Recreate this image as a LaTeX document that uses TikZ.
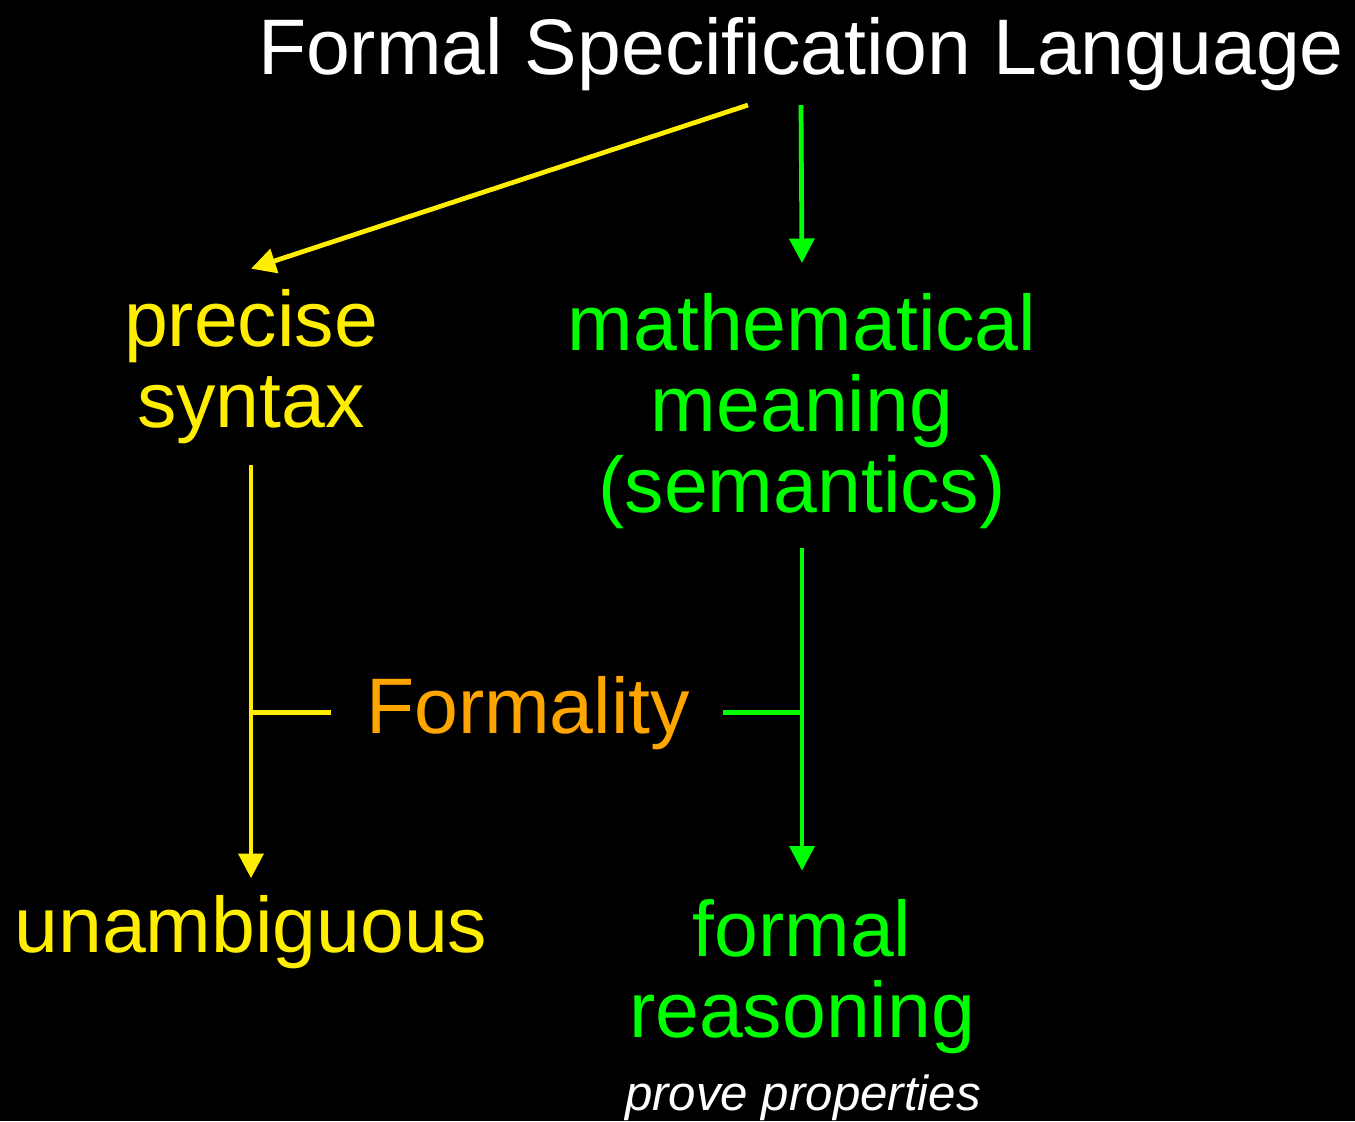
\documentclass[tikz,border=0pt]{standalone}
\usepackage{fontspec}
\setmainfont{Liberation Sans}
\usetikzlibrary{arrows.meta,positioning}
\definecolor{synyellow}{RGB}{255,238,0}
\definecolor{semgreen}{RGB}{0,255,0}
\definecolor{formorange}{RGB}{255,165,0}

\begin{document}
\begin{tikzpicture}[
    x=0.01cm, y=-0.01cm,
    lbl/.style={align=center, inner sep=0pt, anchor=base, font=\fontsize{22.4}{22.9}\selectfont},
    arr/.style={-{Triangle[length=7pt,width=7pt]}, line width=1.35pt},
    tick/.style={line width=1.35pt}
]
\fill[black] (0,0) rectangle (1355,1121);

\node[lbl, white] (fsl) at (801,74) {Formal Specification Language};
\node[lbl, synyellow] (syn) at (251,427) {precise\\syntax};
\node[lbl, semgreen] (sem) at (802,512) {mathematical\\meaning\\(semantics)};
\node[lbl, formorange] (form) at (528,733) {Formality};
\node[lbl, synyellow] (unamb) at (251,952) {unambiguous};
\node[lbl, semgreen] (reason) at (802,1037) {formal\\reasoning};
\node[inner sep=0pt, anchor=base, white, font=\fontsize{14}{14}\selectfont\itshape] (prove) at (803,1110) {prove properties};

\draw[arr, synyellow] ([xshift=-0.53cm, yshift=-0.14cm]fsl.south) -- ([yshift=0.2cm]syn.north);
\draw[arr, semgreen] ([yshift=-0.14cm]fsl.south) -- ([yshift=0.3cm]sem.north);
\draw[arr, synyellow] ([yshift=-0.21cm]syn.south) -- ([yshift=0.16cm]unamb.north);
\draw[arr, semgreen] ([yshift=-0.19cm]sem.south) -- ([yshift=0.28cm]reason.north);
\draw[tick, synyellow] (syn |- form.west) -- ([xshift=-0.34cm]form.west);
\draw[tick, semgreen] ([xshift=0.32cm]form.east) -- (sem |- form.east);
\end{tikzpicture}
\end{document}
